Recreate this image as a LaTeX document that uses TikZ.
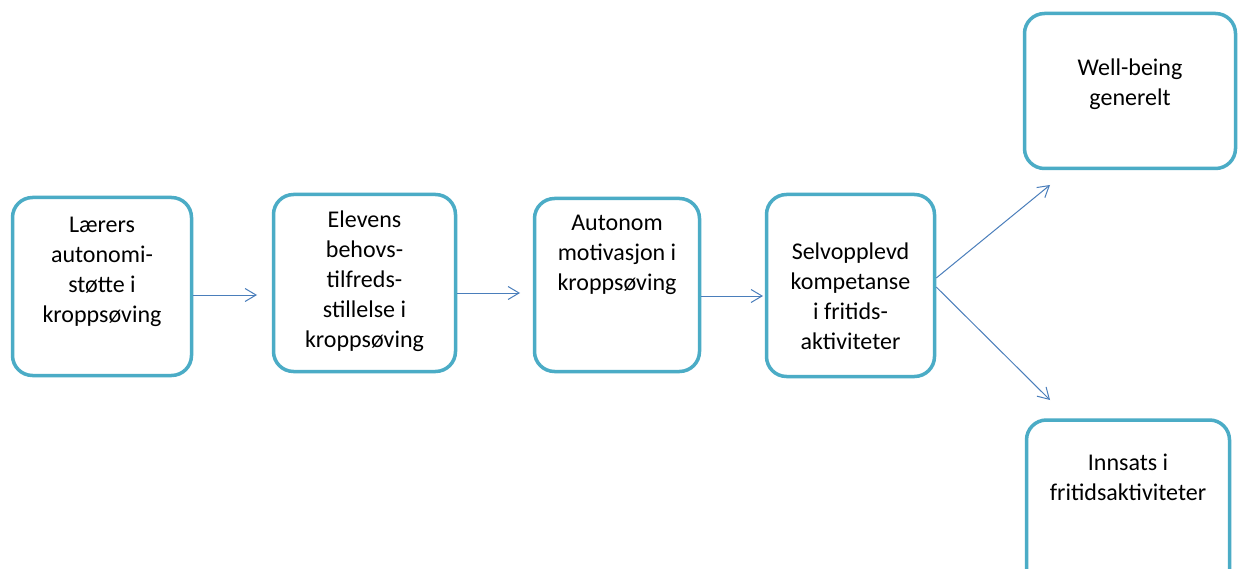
\documentclass[tikz,border=0pt]{standalone}
\usepackage{fontspec}
\setmainfont{Carlito}
\usetikzlibrary{arrows.meta}
\definecolor{boxteal}{HTML}{4BACC6}
\definecolor{arrowblue}{HTML}{4A7EBB}
\begin{document}
\begin{tikzpicture}[x=1pt,y=-1pt,
  box/.style={draw=boxteal, line width=3.5pt, rounded corners=20pt, fill=white, inner sep=0pt},
  txt/.style={anchor=north, inner sep=0pt, align=center, font=\fontsize{24}{30}\selectfont, text=black},
  conn/.style={draw=arrowblue, line width=1pt, -{Straight Barb[length=11pt,width=13pt,line width=1pt]}}]
\useasboundingbox (0,0) rectangle (1239,569);
\fill[white] (0,0) rectangle (1239,569);
% boxes
\node[box, minimum width=179pt, minimum height=178pt] (b1) at (102,286.5) {};
\node[box, minimum width=182pt, minimum height=177pt] (b2) at (364.5,283) {};
\node[box, minimum width=165pt, minimum height=173pt] (b3) at (617,285) {};
\node[box, minimum width=168pt, minimum height=182pt] (b4) at (850.5,285.5) {};
\node[box, minimum width=211pt, minimum height=155pt] (b5) at (1130,91) {};
\node[box, minimum width=203pt, minimum height=180pt] (b6) at (1128,510) {};
% texts
\node[txt] (t1) at (102,211) {\strut Lærers\\autonomi-\\støtte i\\kroppsøving};
\node[txt] (t2) at (364.5,206) {\strut Elevens\\behovs-\\tilfreds-\\stillelse i\\kroppsøving};
\node[txt] (t3) at (617,209) {\strut Autonom\\motivasjon i\\kroppsøving};
\node[txt] (t4) at (850.5,238) {\strut Selvopplevd\\kompetanse\\i fritids-\\aktiviteter};
\node[txt] (t5) at (1130,54) {\strut Well-being\\generelt};
\node[txt] (t6) at (1128,449) {\strut Innsats i\\fritidsaktiviteter};
% connector end points
\coordinate (e1) at (257,295);
\coordinate (e2) at (520,293);
\coordinate (e3) at (763,296);
\coordinate (e4) at (1050,185);
\coordinate (e5) at (1050,400);
\draw[conn] (b1.east |- e1) -- (e1);
\draw[conn] (b2.east |- e2) -- (e2);
\draw[conn] (b3.east |- e3) -- (e3);
\coordinate (s4) at (b4.east |- 0,278);
\coordinate (s5) at (b4.east |- 0,287);
\draw[conn] (s4) -- (e4);
\draw[conn] (s5) -- (e5);
\end{tikzpicture}
\end{document}
